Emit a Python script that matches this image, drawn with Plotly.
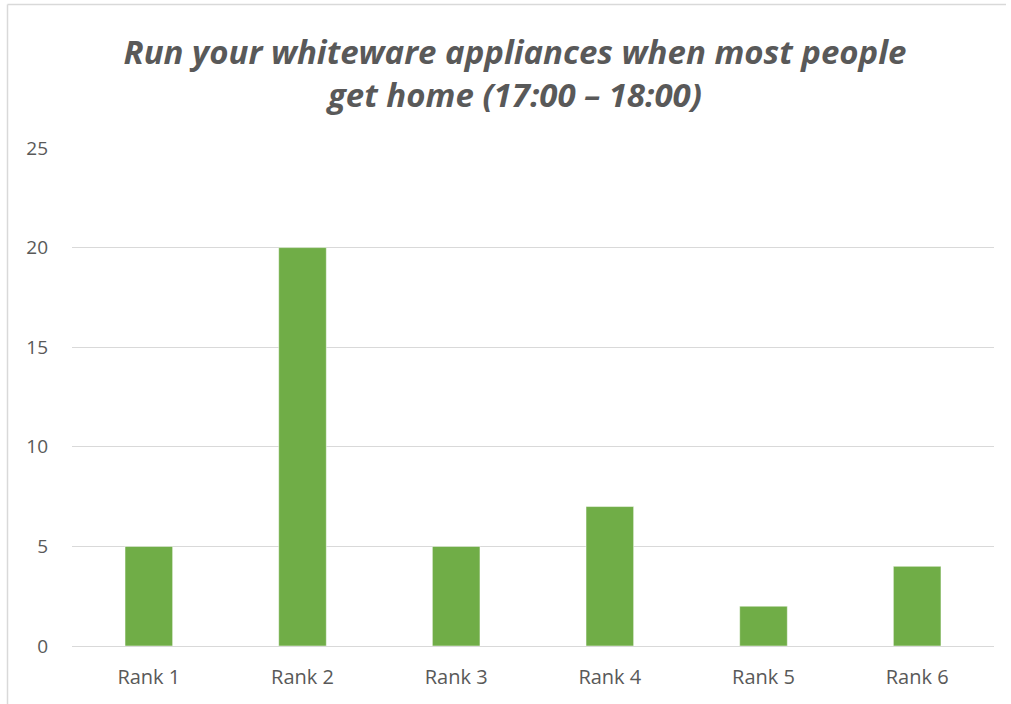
import plotly.graph_objects as go

categories = ["Rank 1", "Rank 2", "Rank 3", "Rank 4", "Rank 5", "Rank 6"]
values = [5, 20, 5, 7, 2, 4]
y_ticks = [0, 5, 10, 15, 20, 25]

W, H = 1011, 704
L, R, T, B = 72, 17, 148, 58
pw, ph = W - L - R, H - T - B

fig = go.Figure(go.Bar(
    x=categories, y=values,
    marker=dict(color="#70ad47", line=dict(color="#ffffff", width=0.5)),
    width=0.31,
))

fig.update_layout(
    width=W, height=H,
    margin=dict(l=L, r=R, t=T, b=B),
    paper_bgcolor="white", plot_bgcolor="white",
    showlegend=False,
    title=dict(
        text="<b><i>Run your whiteware appliances when most people<br>get home (17:00 – 18:00)</i></b>",
        x=515 / W, xref="container", xanchor="center",
        y=1 - 64 / H, yanchor="middle", yref="container",
        font=dict(family="Open Sans, Liberation Sans, sans-serif", size=33, color="#595959"),
    ),
    font=dict(family="Open Sans, Liberation Sans, sans-serif", size=18, color="#595959"),
    xaxis=dict(showgrid=False, showline=False, ticks="", ticklabelstandoff=17,
               tickfont=dict(size=20, color="#595959")),
    yaxis=dict(range=[0, 25], tickvals=y_ticks, showgrid=True, gridcolor="#d9d9d9", gridwidth=1.3,
               zeroline=True, zerolinecolor="#d9d9d9", zerolinewidth=1.3,
               ticks="", ticklabelstandoff=23, tickfont=dict(size=19, color="#595959")),
    shapes=[
        dict(type="line", xref="paper", yref="paper",
             x0=(7.5 - L) / pw, x1=(1006 - L) / pw,
             y0=1 + (T - 4.5) / ph, y1=1 + (T - 4.5) / ph,
             line=dict(color="#d9d9d9", width=1.5)),
        dict(type="line", xref="paper", yref="paper",
             x0=(7.5 - L) / pw, x1=(7.5 - L) / pw,
             y0=1 + (T - 4.5) / ph, y1=-(B + 5) / ph,
             line=dict(color="#d9d9d9", width=1.5)),
    ],
)

fig.write_html("out.html")
